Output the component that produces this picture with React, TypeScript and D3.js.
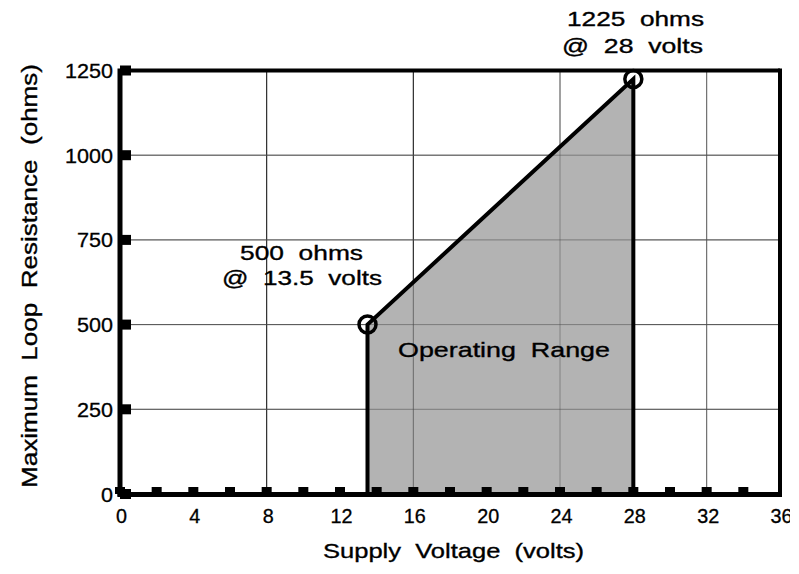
import React from "react";
import * as d3 from "d3";

const xTicks = [0, 4, 8, 12, 16, 20, 24, 28, 32, 36];
const yTicks = [0, 250, 500, 750, 1000, 1250];
const xMinorTicks = [0, 2, 4, 6, 8, 10, 12, 14, 16, 18, 20, 22, 24, 26, 28, 30, 32, 34];
const xGrid = [8, 16, 24, 32];
const yGrid = [250, 500, 750, 1000];
const rangeVolts = [13.5, 13.5, 28, 28];
const rangeOhms = [0, 500, 1225, 0];
const markerVolts = [13.5, 28];
const markerOhms = [500, 1225];

const FONT = "'Liberation Sans', Arial, Helvetica, sans-serif";

export default function App() {
  const x = d3.scaleLinear().domain([0, 36]).range([120, 780]);
  const y = d3.scaleLinear().domain([0, 1250]).range([494, 70.5]);

  const pts: [number, number][] = rangeVolts.map((v, i) => [x(v), y(rangeOhms[i])]);
  const area = d3.line()(pts) + "Z";

  const txt = (props: any, s: string, size = 21) => (
    <text
      fontFamily={FONT}
      fontSize={size}
      fill="#000"
      stroke="#000"
      strokeWidth={0.35}
      lengthAdjust="spacingAndGlyphs"
      style={{ whiteSpace: "pre" }}
      {...props}
    >
      {s}
    </text>
  );

  return (
    <svg
      width={790}
      height={574}
      style={{ position: "absolute", left: 0, top: 0, background: "#fff" }}
    >
      <rect x={0} y={0} width={790} height={574} fill="#fff" />
      {/* grid */}
      {xGrid.map((v) => (
        <line key={"gx" + v} x1={x(v)} x2={x(v)} y1={y(0)} y2={y(1250)} stroke={v < 20 ? "#222" : "#777"} strokeWidth={1} />
      ))}
      {yGrid.map((v) => (
        <line key={"gy" + v} x1={x(0)} x2={x(36)} y1={y(v)} y2={y(v)} stroke="#666" strokeWidth={1} />
      ))}

      {/* operating range */}
      <path d={area} fill="#b3b3b3" stroke="none" />
      {xGrid.map((v) => (
        <line key={"gx2" + v} x1={x(v)} x2={x(v)} y1={y(0)} y2={y(1250)} stroke={v < 20 ? "#222" : "#555"} strokeWidth={1} opacity={0.5} />
      ))}
      {yGrid.map((v) => (
        <line key={"gy2" + v} x1={x(0)} x2={x(36)} y1={y(v)} y2={y(v)} stroke="#444" strokeWidth={1} opacity={0.5} />
      ))}
      <path d={area} fill="none" stroke="#000" strokeWidth={4} strokeLinejoin="miter" />

      {/* frame */}
      <line x1={x(0)} x2={x(36)} y1={y(1250)} y2={y(1250)} stroke="#000" strokeWidth={4} />
      <line x1={x(36)} x2={x(36)} y1={y(1250) - 2} y2={y(0)} stroke="#000" strokeWidth={4} />
      <line x1={x(0)} x2={x(0)} y1={y(1250) - 2} y2={y(0) + 2.5} stroke="#000" strokeWidth={5} />
      <line x1={x(0) - 2.5} x2={x(36) + 2} y1={y(0) + 0.5} y2={y(0) + 0.5} stroke="#000" strokeWidth={5} />

      {/* square tick marks */}
      {xMinorTicks.map((v) => (
        <rect key={"sx" + v} x={x(v) - 5} y={y(0) - 7} width={10} height={7} fill="#000" />
      ))}
      {yTicks.map((v) => (
        <rect key={"sy" + v} x={x(0)} y={y(v) - 5} width={11} height={10} fill="#000" />
      ))}

      {/* markers */}
      {markerVolts.map((v, i) => (
        <circle key={"m" + i} cx={x(v)} cy={y(markerOhms[i])} r={8.5} fill="none" stroke="#000" strokeWidth={3.5} />
      ))}

      {/* tick labels */}
      {yTicks.map((v) => (
        <text
          key={"ly" + v}
          x={113}
          y={y(v) + 7.5}
          textAnchor="end"
          fontFamily={FONT}
          fontSize={19.5}
          fill="#000"
          stroke="#000"
          strokeWidth={0.3}
          textLength={String(v).length * 12}
          lengthAdjust="spacingAndGlyphs"
        >
          {v}
        </text>
      ))}
      {xTicks.map((v) => (
        <text
          key={"lx" + v}
          x={x(v) + 1.5}
          y={523}
          textAnchor="middle"
          fontFamily={FONT}
          fontSize={19.5}
          fill="#000"
          stroke="#000"
          strokeWidth={0.3}
          textLength={String(v).length * 11}
          lengthAdjust="spacingAndGlyphs"
        >
          {v}
        </text>
      ))}

      {/* annotations */}
      {txt({ x: 240, y: 260, textLength: 123 }, "500  ohms")}
      {txt({ x: 222, y: 285, textLength: 160 }, "@  13.5  volts")}
      {txt({ x: 567, y: 26, textLength: 137 }, "1225  ohms")}
      {txt({ x: 562, y: 53, textLength: 141 }, "@  28  volts")}
      {txt({ x: 398, y: 357, textLength: 212 }, "Operating  Range")}

      {/* axis titles */}
      {txt({ x: 323, y: 558, textLength: 261 }, "Supply  Voltage  (volts)")}
      {txt({ x: 0, y: 0, textLength: 424, transform: "translate(36.5,488) rotate(-90)" }, "Maximum  Loop  Resistance  (ohms)", 22)}
    </svg>
  );
}
